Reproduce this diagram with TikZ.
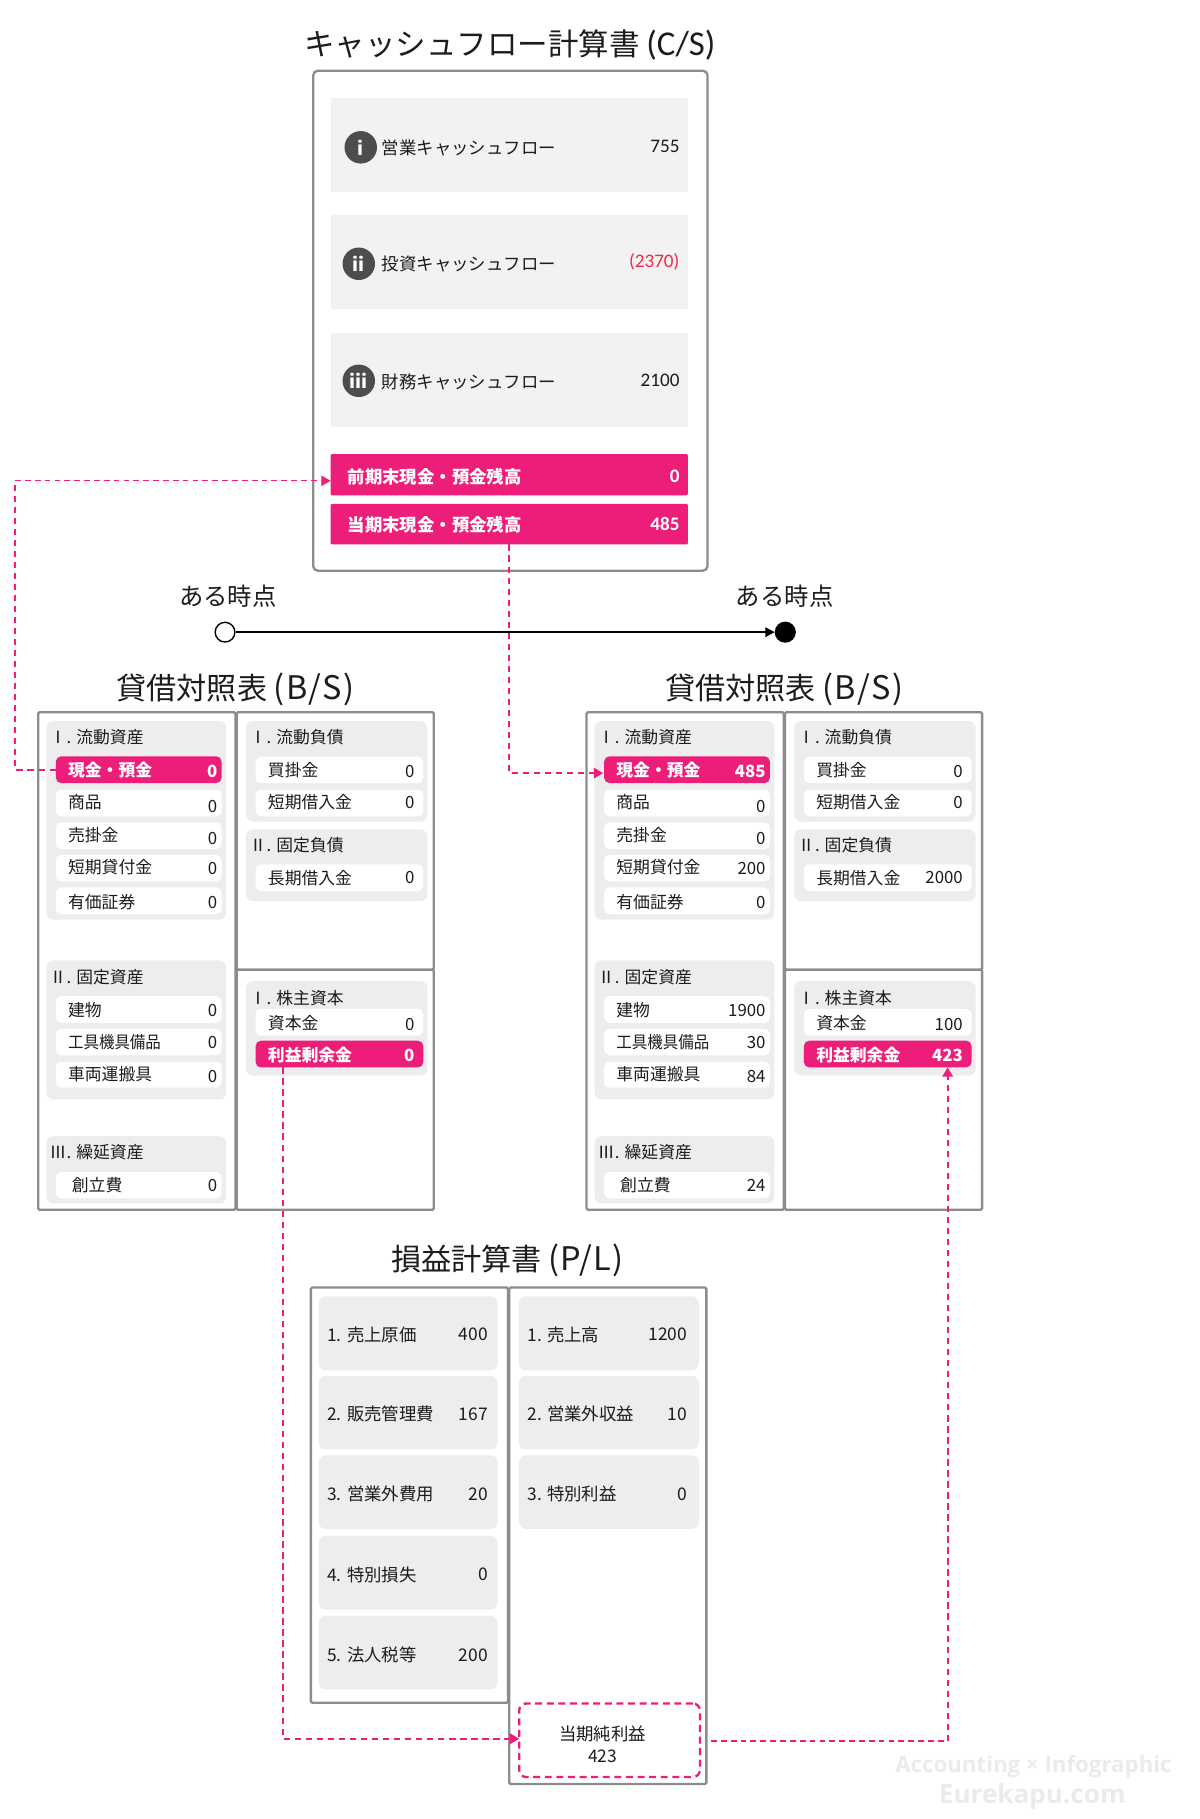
\documentclass[tikz,border=0pt]{standalone}
\usepackage{fontspec}
\setmainfont{Noto Sans CJK JP}
\newfontfamily\latinnarrow{Carlito}
\newfontfamily\wmfont{Open Sans}
\usetikzlibrary{arrows.meta,calc}
\definecolor{pinkc}{HTML}{ED1E79}
\definecolor{linec}{HTML}{8C8C8C}
\definecolor{bara}{HTML}{F2F2F2}
\definecolor{barb}{HTML}{EDEDED}
\definecolor{inkc}{HTML}{1C1C1C}
\definecolor{redc}{HTML}{EE2A45}
\definecolor{wmc}{HTML}{EBEBEB}
\definecolor{discc}{HTML}{4D4D4D}
\newcommand{\wideparen}[1]{{\addfontfeature{LetterSpace=4}\fontsize{28}{30}\selectfont #1}}
\newcommand{\rI}{Ⅰ\kern-3pt}
\newcommand{\rII}{Ⅱ\kern-3pt}
\newcommand{\rIII}{Ⅲ\kern-3pt}
\tikzset{
  shapebox/.style={inner sep=0pt,outer sep=0pt},
  panel/.style={shapebox,draw=linec,line width=2pt,fill=white,rounded corners=1.2pt},
  cspanel/.style={panel,rounded corners=4pt},
  csbar/.style={shapebox,fill=bara},
  pinkbar/.style={shapebox,fill=pinkc,rounded corners=1pt},
  grpbox/.style={shapebox,fill=barb,rounded corners=6pt},
  rowbox/.style={shapebox,fill=white,rounded corners=4.5pt},
  pinkrow/.style={shapebox,fill=pinkc,rounded corners=4.5pt},
  plbox/.style={shapebox,fill=barb,rounded corners=6pt},
  netbox/.style={shapebox,draw=pinkc,line width=2pt,dash pattern=on 6pt off 4pt,rounded corners=6pt},
  titletxt/.style={inner sep=0pt,text=inkc,anchor=base,yshift=-9.9pt,font=\fontsize{26}{28}\selectfont},
  cstitletxt/.style={titletxt,font=\fontsize{26.3}{28}\selectfont},
  timetxt/.style={inner sep=0pt,text=inkc,anchor=base,yshift=-8pt,font=\fontsize{21}{24}\selectfont},
  lab/.style={inner sep=0pt,text=inkc,anchor=base west,yshift=-5.5pt,font=\fontsize{14.5}{16}\selectfont},
  labr/.style={lab,anchor=base east},
  val/.style={inner sep=0pt,text=inkc,anchor=base east,yshift=-5.3pt,font=\fontsize{14.5}{16}\selectfont},
  pllab/.style={lab,font=\fontsize{15}{16}\selectfont},
  plval/.style={val,font=\fontsize{15}{16}\selectfont},
  wlab/.style={lab,text=white,font=\fontsize{14.5}{16}\selectfont\bfseries},
  wval/.style={val,text=white,font=\fontsize{14.5}{16}\selectfont\bfseries},
  cslab/.style={lab,font=\fontsize{15}{16}\selectfont},
  csval/.style={val,font=\latinnarrow\fontsize{16.5}{18}\selectfont},
  cswlab/.style={wlab,font=\fontsize{15}{16}\selectfont\bfseries},
  cswval/.style={csval,text=white,font=\latinnarrow\fontsize{16.5}{18}\selectfont\bfseries},
  disc/.style={circle,fill=discc,minimum size=28pt,inner sep=0pt,text=white,font=\fontsize{16}{16}\selectfont\bfseries},
  openpt/.style={circle,draw=black,line width=1.2pt,fill=white,minimum size=17pt,inner sep=0pt},
  fullpt/.style={circle,draw=black,line width=1.2pt,fill=black,minimum size=17pt,inner sep=0pt},
  flow/.style={draw=pinkc,line width=1.8pt,dash pattern=on 5.5pt off 4pt},
  flowthin/.style={draw=pinkc,line width=1pt,dash pattern=on 5pt off 3.5pt},
  flowtip/.style={-{Triangle[length=8pt,width=9pt,fill=pinkc]}},
  water/.style={inner sep=0pt,text=wmc,font=\wmfont\bfseries}
}
\newcommand{\rbox}[6]{\node[#2,minimum width={(#5-#3)*1pt},minimum height={(#6-#4)*1pt}] (#1) at ({(#3+#5)/2},{(#4+#6)/2}) {};}
% one balance sheet; #1 = name prefix; values in \vA ... \vN
\newcommand{\BSheet}[1]{%
  \rbox{#1L}{panel}{33}{614}{203}{1043}
  \rbox{#1Rt}{panel}{204}{614}{374}{836}
  \rbox{#1Rb}{panel}{204}{836}{374}{1043}
  \rbox{#1ga}{grpbox}{40}{621.7}{195}{792.8}
  \rbox{#1gb}{grpbox}{40}{828}{195}{947.8}
  \rbox{#1gc}{grpbox}{40}{979.5}{195}{1037.5}
  \rbox{#1gd}{grpbox}{212}{621.7}{368.4}{708.3}
  \rbox{#1ge}{grpbox}{212}{715}{368.4}{776.8}
  \rbox{#1gf}{grpbox}{212}{845.9}{368.4}{927.3}
  \node[labr] (#1ta) at (124,635.5) {\rI\ . 流動資産};
  \node[labr] (#1tb) at (124,842.4) {\rII\ . 固定資産};
  \node[labr] (#1tc) at (124,993.6) {\rIII\ . 繰延資産};
  \node[labr] (#1td) at (296.5,635.5) {\rI\ . 流動負債};
  \node[labr] (#1te) at (296.5,728.6) {\rII\ . 固定負債};
  \node[labr] (#1tf) at (296.5,860.3) {\rI\ . 株主資本};
  \rbox{#1cash}{pinkrow}{48.2}{652}{191}{675.1}
  \node[wlab] (#1cashl) at (58.5,663.8) {現金・預金};
  \node[wval] (#1cashv) at (187.5,665.3) {\vA};
  \foreach \n/\ya/\yb/\ly/\vy/\lx/\t/\v in {
    b/680.7/703.7/691.7/694.8/58.5/商品/\vB,
    c/708.9/732/720/722.4/58.5/売掛金/\vC,
    d/736.9/759.9/747.3/748.8/58.5/短期貸付金/\vD,
    e/765.1/788.2/777.4/778.3/58.5/有価証券/\vE,
    f/858.8/881.8/870.5/871/58.5/建物/\vF,
    g/887/909.8/898/898.3/58.5/\scalebox{0.92}[1]{工具機具備品}/\vG,
    h/915.3/937.7/926.4/928.2/58.5/車両運搬具/\vH,
    i/1010.2/1033.2/1021.3/1021.8/61.8/創立費/\vI}{
    \rbox{#1r\n}{rowbox}{48.2}{\ya}{191}{\yb}
    \node[lab] (#1l\n) at (\lx,\ly) {\t};
    \node[val] (#1v\n) at (187.5,\vy) {\v};
  }
  \foreach \n/\ya/\yb/\ly/\vy/\t/\v in {
    j/652.4/675.1/663.8/664.7/買掛金/\vJ,
    k/680.7/703.7/691.7/692/短期借入金/\vK,
    m/745.2/768.2/756.9/756.8/長期借入金/\vL,
    n/869.8/892.9/881.8/883/資本金/\vM}{
    \rbox{#1r\n}{rowbox}{220.4}{\ya}{364.9}{\yb}
    \node[lab] (#1l\n) at (230.8,\ly) {\t};
    \node[val] (#1v\n) at (357.5,\vy) {\v};
  }
  \rbox{#1re}{pinkrow}{220.4}{897.2}{364.9}{920.2}
  \node[wlab] (#1rel) at (230.8,909.4) {利益剰余金};
  \node[wval] (#1rev) at (357.5,909.8) {\vN};
}
\begin{document}
\begin{tikzpicture}[x=1pt,y=-1pt]
\path[use as bounding box,fill=white] (0,0) rectangle (1034.5,1568.2);

% ---- cash flow statement
\node[cstitletxt] (cstitle) at (439.5,38) {キャッシュフロー計算書 {\latinnarrow\fontsize{30}{30}\selectfont (C/S)}};
\rbox{cs}{cspanel}{270}{61}{610}{492}
\rbox{barA}{csbar}{285}{84.8}{593}{165.7}
\rbox{barB}{csbar}{285}{185.7}{593}{266.7}
\rbox{barC}{csbar}{285}{286.7}{593}{368}
\rbox{prev}{pinkbar}{285}{391.5}{593}{427}
\rbox{curr}{pinkbar}{285}{434.3}{593}{469.4}
\node[disc] (discA) at (311,127) {i};
\node[disc] (discB) at (309.3,227.4) {ii};
\node[disc] (discC) at (309.3,328.3) {iii};
\node[cslab] (csA) at (329,127.3) {営業キャッシュフロー};
\node[cslab] (csB) at (329,227.5) {投資キャッシュフロー};
\node[cslab] (csC) at (329,329.5) {財務キャッシュフロー};
\node[csval] (cvA) at (586,126) {755};
\node[csval,text=redc] (cvB) at (586,225.5) {(2370)};
\node[csval] (cvC) at (586,328) {2100};
\node[cswlab] (csD) at (299.5,411) {前期末現金・預金残高};
\node[cswlab] (csE) at (299.5,453) {当期末現金・預金残高};
\node[cswval] (cvD) at (586,410.5) {0};
\node[cswval] (cvE) at (586,452) {485};

% ---- time line
\node[timetxt] (timeA) at (196.5,514) {ある時点};
\node[timetxt] (timeB) at (676.5,514) {ある時点};
\node[openpt] (ptA) at (194,545) {};
\node[fullpt] (ptB) at (677,545) {};
\draw[black,line width=1.7pt,-{Triangle[length=8pt,width=8pt]}] (ptA) -- (ptB);

% ---- balance sheets
\node[titletxt] (bstitleL) at (203,593) {貸借対照表 \wideparen{(B/S)}};
\node[titletxt] (bstitleR) at (676,593) {貸借対照表 \wideparen{(B/S)}};
\def\vA{0}\def\vB{0}\def\vC{0}\def\vD{0}\def\vE{0}\def\vF{0}\def\vG{0}\def\vH{0}\def\vI{0}\def\vJ{0}\def\vK{0}\def\vL{0}\def\vM{0}\def\vN{0}
\BSheet{x}
\begin{scope}[xshift=472.7pt]
\def\vA{485}\def\vB{0}\def\vC{0}\def\vD{200}\def\vE{0}\def\vF{1900}\def\vG{30}\def\vH{84}\def\vI{24}\def\vJ{0}\def\vK{0}\def\vL{2000}\def\vM{100}\def\vN{423}
\BSheet{y}
\end{scope}

% ---- income statement
\node[titletxt] (pltitle) at (437.5,1085) {損益計算書 \wideparen{(P/L)}};
\rbox{plL}{panel}{268}{1110}{438}{1468}
\rbox{plR}{panel}{439}{1110}{609}{1538}
\foreach \n/\ya/\yb/\yt/\t/\v in {
  a/1117.6/1181.4/1150.6/1. 売上原価/400,
  b/1186.1/1249.6/1219.5/2. 販売管理費/167,
  c/1254.7/1318.1/1288/3. 営業外費用/20,
  d/1324.2/1387.6/1357.5/4. 特別損失/0,
  e/1393/1456.5/1426.7/5. 法人税等/200}{
  \rbox{pa\n}{plbox}{274.7}{\ya}{429}{\yb}
  \node[pllab] (pl\n) at (282,\yt) {\t};
  \node[plval] (pv\n) at (420.7,\yt) {\v};
}
\foreach \n/\ya/\yb/\yt/\t/\v in {
  a/1117.6/1181.4/1150.6/1. 売上高/1200,
  b/1186.1/1249.6/1219.5/2. 営業外収益/10,
  c/1254.7/1318.1/1288/3. 特別利益/0}{
  \rbox{qa\n}{plbox}{447.3}{\ya}{602.4}{\yb}
  \node[pllab] (ql\n) at (454.5,\yt) {\t};
  \node[plval] (qv\n) at (592.7,\yt) {\v};
}
\rbox{net}{netbox}{447.6}{1468.6}{603.4}{1532}
\node[inner sep=0pt,text=inkc,align=center,font=\fontsize{15}{19}\selectfont] (netl) at (519.5,1503.5) {当期純利益\\423};

% ---- connectors
\coordinate (prevIn) at (285,414.5);
\coordinate (turnA) at (13,414.5);
\coordinate (cashIn) at (519.9,666.5);
\coordinate (reOut) at (244,920.2);
\coordinate (netIn) at (447.6,1499);
\coordinate (netOut) at (613,1501);
\coordinate (turnB) at (817,1501);
\coordinate (reIn) at (817,920.2);
\draw[flow] (xcash.west) -| (turnA);
\draw[flowthin,flowtip] (turnA) -- (prevIn);
\draw[flow,flowtip] (curr.south) |- (cashIn);
\draw[flow,flowtip] (reOut) |- (netIn);
\draw[flowthin] (netOut) -- (turnB);
\draw[flow,flowtip] (turnB) -- (reIn);

% ---- site mark
\node[water,font=\wmfont\bfseries\fontsize{19.2}{22}\selectfont] (wmA) at (891,1523) {Accounting × Infographic};
\node[water,font=\wmfont\bfseries\fontsize{22.5}{25}\selectfont] (wmB) at (890,1549) {Eurekapu.com};
\end{tikzpicture}
\end{document}
